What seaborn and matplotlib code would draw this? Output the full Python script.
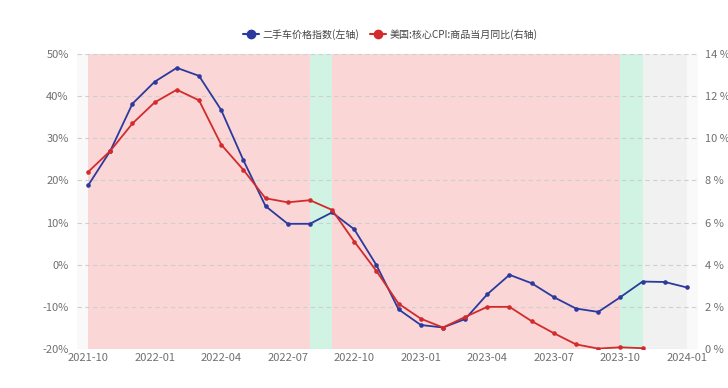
import matplotlib
matplotlib.use("Agg")
import matplotlib.pyplot as plt
import seaborn as sns
import pandas as pd
from matplotlib.lines import Line2D

months = ["2021-10", "2021-11", "2021-12", "2022-01", "2022-02", "2022-03", "2022-04",
          "2022-05", "2022-06", "2022-07", "2022-08", "2022-09", "2022-10", "2022-11",
          "2022-12", "2023-01", "2023-02", "2023-03", "2023-04", "2023-05", "2023-06",
          "2023-07", "2023-08", "2023-09", "2023-10", "2023-11", "2023-12", "2024-01"]
used_car = [18.8, 27.0, 38.2, 43.4, 46.7, 44.8, 36.7, 24.8, 13.9, 9.7, 9.7, 12.4, 8.4, -0.1,
            -10.6, -14.3, -14.9, -12.9, -7.0, -2.4, -4.4, -7.7, -10.4, -11.2, -7.7, -4.0,
            -4.1, -5.4]
core_goods_cpi = [8.4, 9.4, 10.7, 11.7, 12.3, 11.8, 9.7, 8.5, 7.15, 6.96, 7.06, 6.6, 5.1, 3.7,
                  2.15, 1.44, 1.02, 1.52, 2.0, 2.0, 1.32, 0.75, 0.22, 0.02, 0.08, 0.04]
name_blue = "二手车价格指数(左轴)"
name_red = "美国:核心CPI:商品当月同比(右轴)"
left_ticks = [-20, -10, 0, 10, 20, 30, 40, 50]
right_ticks = [0, 2, 4, 6, 8, 10, 12, 14]
# shaded periods (start month, end month, colour)
spans = [("2021-10", "2022-08", "#fad6d7"), ("2022-08", "2022-09", "#d0f3e3"),
         ("2022-09", "2023-10", "#fad6d7"), ("2023-10", "2023-11", "#d0f3e3"),
         ("2023-11", "2024-01", "#f1f1f1")]

sns.set_theme(style="white")
plt.rcParams['font.family'] = ['Noto Sans CJK SC', 'DejaVu Sans']

df_b = pd.DataFrame({"x": range(len(used_car)), "v": used_car})
df_r = pd.DataFrame({"x": range(len(core_goods_cpi)), "v": core_goods_cpi})

blue = "#2b3a9c"
red = "#d22b2b"
tick_col = "#707070"

fig = plt.figure(figsize=(7.28, 3.88), dpi=100)
ax = fig.add_axes([0.1058, 0.1005, 0.853, 0.7605])
ax.set_facecolor("#f9f9f9")
idx = {m: i for i, m in enumerate(months)}
for s, e, c in spans:
    ax.axvspan(idx[s], idx[e], color=c, lw=0, zorder=0.5)

sns.lineplot(data=df_b, x="x", y="v", ax=ax, color=blue, marker="o", markersize=3.3,
             markeredgewidth=0, linewidth=1.3, zorder=3)
ax2 = ax.twinx()
sns.lineplot(data=df_r, x="x", y="v", ax=ax2, color=red, marker="o", markersize=3.3,
             markeredgewidth=0, linewidth=1.3, zorder=3)

ax.set_xlim(-0.5, len(months) - 0.5)
ax.set_ylim(-20, 50)
ax2.set_ylim(0, 14)
ax.set_yticks(left_ticks)
ax.set_yticklabels([f"{t}%" for t in left_ticks])
ax2.set_yticks(right_ticks)
ax2.set_yticklabels([f"{t} %" for t in right_ticks])
ax.set_xticks(range(0, len(months), 3))
ax.set_xticklabels(months[::3])
for a in (ax, ax2):
    a.set_xlabel("")
    a.set_ylabel("")
    for sp in a.spines.values():
        sp.set_visible(False)
    a.tick_params(length=0, labelsize=8, colors=tick_col)
ax.tick_params(axis="y", pad=6)
ax2.tick_params(axis="y", pad=5)
ax.tick_params(axis="x", pad=3)
ax.set_axisbelow("line")
ax.grid(axis="y", color="#cfcfcf", linestyle=(0, (4, 3)), linewidth=0.8)
ax.grid(axis="x", visible=False)
ax2.grid(False)

handles = [Line2D([0], [0], color=blue, lw=1.5, marker="o", markersize=6),
           Line2D([0], [0], color=red, lw=1.5, marker="o", markersize=6)]
fig.legend(handles, [name_blue, name_red], loc="center", bbox_to_anchor=(0.536, 0.912),
           ncol=2, frameon=False, fontsize=7.2, handlelength=1.6, columnspacing=1.0,
           handletextpad=0.4, labelcolor="#444444")

fig.savefig("out.png", dpi=100)
